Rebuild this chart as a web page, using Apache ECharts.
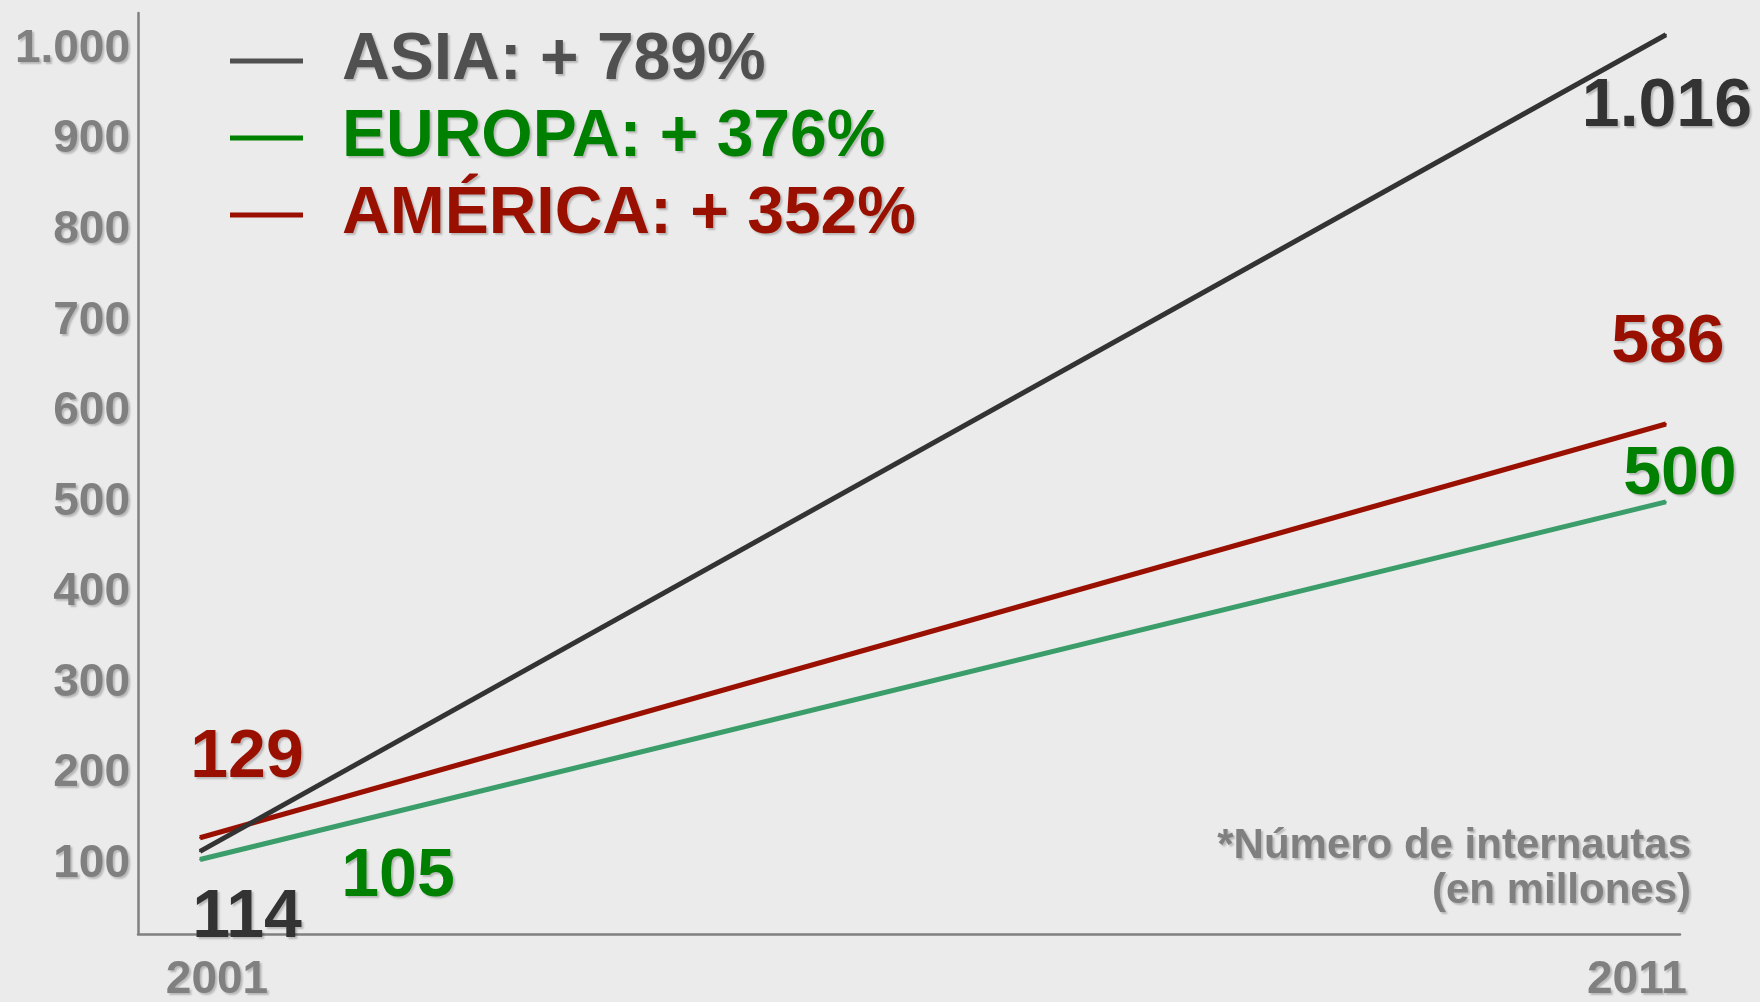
<!DOCTYPE html>
<html>
<head>
<meta charset="utf-8">
<script src="https://cdn.jsdelivr.net/npm/echarts@6/dist/echarts.min.js"></script>
<style>
  html, body { margin: 0; padding: 0; background: #ebebeb; }
  #chart { width: 1760px; height: 1002px; }
</style>
</head>
<body>
<div id="chart"></div>
<script>
// Internet users (millions), 2001 vs 2011
const years = [2001, 2011];
const regions = ['ASIA', 'EUROPA', 'AMÉRICA'];
const asia = [114, 1016];
const europa = [105, 500];
const america = [129, 586];
const growth = ['+ 789%', '+ 376%', '+ 352%'];
const yTicks = [100, 200, 300, 400, 500, 600, 700, 800, 900, 1000];
const footnote = ['*Número de internautas', '(en millones)'];

const FONT = '"Liberation Sans", Arial, sans-serif';
const SHADOW = { textShadowColor: 'rgba(0,0,0,0.22)', textShadowOffsetX: 2, textShadowOffsetY: 2, textShadowBlur: 2 };

// Spanish thousands separator: 1016 -> "1.016"
const fmt = v => String(v).replace(/\B(?=(\d{3})+(?!\d))/g, '.');

// per-series colours and value-label offsets (start point, end point)
const styles = {
  ASIA:      { line: '#333333', text: '#333333', legend: '#505050', offsets: [[47, 67], [1, 73]] },
  EUROPA:    { line: '#3a9d6a', text: '#008000', legend: '#008000', offsets: [[198, 18], [14, -27]] },
  'AMÉRICA': { line: '#9a1000', text: '#9a1000', legend: '#9a1000', offsets: [[47, -80], [2, -81]] }
};

const values = [asia, europa, america];

const series = regions.map((name, i) => {
  const st = styles[name];
  return {
    name,
    type: 'line',
    symbol: 'circle',
    symbolSize: 2,
    itemStyle: { color: st.line },
    lineStyle: { color: st.line, width: 5 },
    z: 3 - i,
    label: {
      show: true,
      position: 'inside',
      align: 'center',
      verticalAlign: 'middle',
      fontFamily: FONT,
      fontWeight: 'bold',
      fontSize: 68,
      color: st.text,
      formatter: p => fmt(p.value[1]),
      ...SHADOW
    },
    emphasis: { disabled: true },
    data: years.map((y, j) => ({
      value: [y, values[i][j]],
      label: { offset: st.offsets[j] }
    }))
  };
});

const chart = echarts.init(document.getElementById('chart'), null, { renderer: 'canvas' });

chart.setOption({
  backgroundColor: '#ebebeb',
  animation: false,
  grid: { left: 138, right: 80, top: 13, bottom: 68, containLabel: false, outerBoundsMode: 'none' },
  graphic: [{
    type: 'text',
    x: 1691,
    y: 824,
    style: {
      text: footnote.join('\n'),
      textAlign: 'right',
      textVerticalAlign: 'top',
      font: 'bold 42px ' + FONT,
      lineHeight: 45,
      fill: '#808080',
      ...SHADOW
    }
  }],
  legend: {
    orient: 'vertical',
    left: 230,
    top: 28,
    padding: 0,
    itemWidth: 73,
    itemHeight: 5,
    itemGap: 11,
    icon: 'rect',
    selectedMode: false,
    formatter: name => name + ': ' + growth[regions.indexOf(name)],
    textStyle: {
      fontFamily: FONT, fontWeight: 'bold', fontSize: 66, lineHeight: 66,
      padding: [0, 0, 0, 34], ...SHADOW
    },
    data: regions.map(name => ({
      name,
      itemStyle: { color: styles[name].legend },
      textStyle: { color: styles[name].legend }
    }))
  },
  xAxis: {
    type: 'value',
    min: 2000.577,
    max: 2011.096,
    splitLine: { show: false },
    axisTick: { show: false },
    axisLine: { show: true, lineStyle: { color: '#808080', width: 2.5 } },
    axisLabel: {
      customValues: years,
      margin: 23,
      fontFamily: FONT, fontWeight: 'bold', fontSize: 46, color: '#808080',
      formatter: v => (v === years[0] ? '{a|' + v + '}' : '{b|' + v + '}'),
      rich: {
        a: { fontFamily: FONT, fontWeight: 'bold', fontSize: 46, color: '#808080', padding: [0, 0, 0, 34], ...SHADOW },
        b: { fontFamily: FONT, fontWeight: 'bold', fontSize: 46, color: '#808080', padding: [0, 58, 0, 0], ...SHADOW }
      }
    }
  },
  yAxis: {
    type: 'value',
    min: 22.7,
    max: 1040,
    splitLine: { show: false },
    axisTick: { show: false },
    axisLine: { show: true, lineStyle: { color: '#808080', width: 2.5 } },
    axisLabel: {
      customValues: yTicks,
      margin: 8,
      fontFamily: FONT, fontWeight: 'bold', fontSize: 46, color: '#808080',
      formatter: v => fmt(v),
      ...SHADOW
    }
  },
  series
});
</script>
</body>
</html>
